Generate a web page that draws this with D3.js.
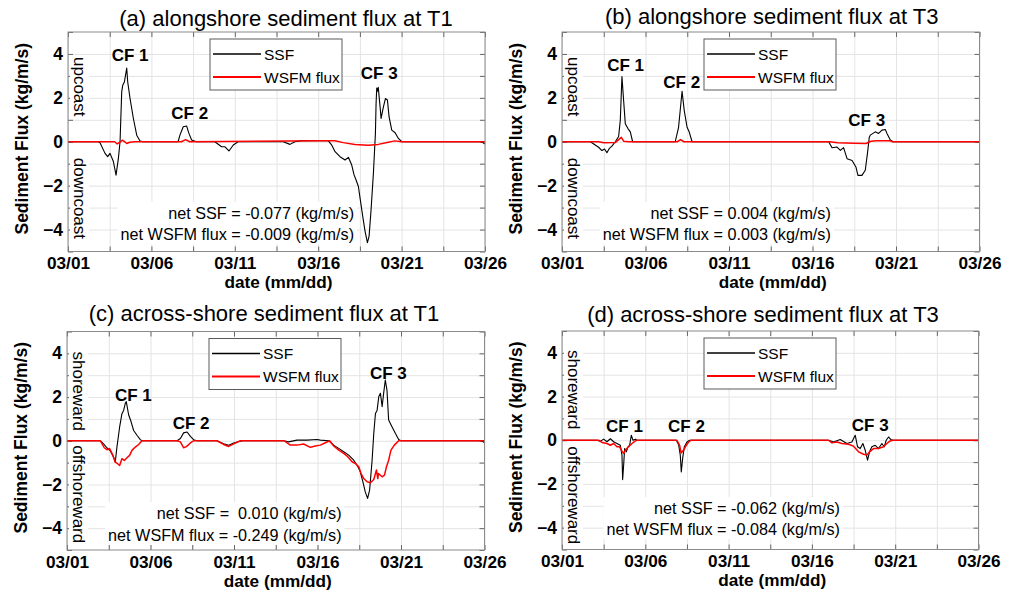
<!DOCTYPE html>
<html>
<head>
<meta charset="utf-8">
<script src="https://cdn.jsdelivr.net/npm/d3@7"></script>
<style>
  html, body { margin: 0; padding: 0; background: #fff; }
  svg { display: block; font-family: "Liberation Sans", Arial, Helvetica, sans-serif; }
  .pre { white-space: pre; }
</style>
</head>
<body>
<script>
// ---------------- DATA (day offset from 03/01, flux in kg/m/s) ----------------
const xTickLabels = ["03/01", "03/06", "03/11", "03/16", "03/21", "03/26"];
const yTickValues = [-4, -2, 0, 2, 4];
const seriesNames = ["SSF", "WSFM flux"];

const titles = [
  "(a) alongshore sediment flux at T1",
  "(b) alongshore sediment flux at T3",
  "(c) across-shore sediment flux at T1",
  "(d) across-shore sediment flux at T3"
];
const netSSF = [
  "net SSF = -0.077 (kg/m/s)",
  "net SSF = 0.004 (kg/m/s)",
  "net SSF =  0.010 (kg/m/s)",
  "net SSF = -0.062 (kg/m/s)"
];
const netWSFM = [
  "net WSFM flux = -0.009 (kg/m/s)",
  "net WSFM flux = 0.003 (kg/m/s)",
  "net WSFM flux = -0.249 (kg/m/s)",
  "net WSFM flux = -0.084 (kg/m/s)"
];
const sideLabels = [
  ["upcoast", "downcoast"],
  ["upcoast", "downcoast"],
  ["shoreward", "offshoreward"],
  ["shoreward", "offshoreward"]
];
const cfLabels = ["CF 1", "CF 2", "CF 3"];

const aSSF = [[0,0],[1.8,0],[1.92,-0.05],[2.22,-0.53],[2.38,-0.68],[2.52,-0.53],[2.72,-0.9],[2.88,-1.52],[3.02,-0.76],[3.12,0],[3.22,2.27],[3.28,2.57],[3.38,2.72],[3.52,3.36],[3.58,2.72],[3.72,1.97],[3.92,1.06],[4.12,0.3],[4.32,0.03],[4.5,0],[6.6,0],[6.71,0.3],[6.91,0.68],[7.11,0.72],[7.25,0.38],[7.41,0.08],[7.7,0],[8.8,0],[9.21,-0.23],[9.41,-0.23],[9.65,-0.42],[9.91,-0.15],[10.2,0],[12.9,0],[13.31,-0.12],[13.6,0],[14.0,0.05],[15.6,0.05],[15.81,-0.15],[16.01,-0.45],[16.31,-0.68],[16.61,-0.83],[16.81,-0.71],[17.01,-1.06],[17.15,-1.51],[17.27,-1.74],[17.41,-2.04],[17.51,-2.57],[17.67,-3.4],[17.81,-4.08],[17.95,-4.6],[18.05,-4.31],[18.17,-3.1],[18.31,-1.43],[18.43,0.38],[18.47,1.74],[18.51,2.45],[18.55,2.3],[18.6,2.48],[18.71,1.59],[18.77,1.06],[18.91,1.59],[19.03,1.97],[19.15,1.9],[19.25,1.13],[19.41,0.53],[19.61,0.41],[19.81,0.15],[20.01,0],[24.8,0],[25,-0.1]];
const aWSFM = [[0,0],[2.8,0],[2.95,-0.1],[3.1,-0.03],[3.25,0.07],[3.4,0],[3.52,-0.08],[3.7,-0.02],[4.0,0],[6.8,0],[7.05,0.1],[7.3,0],[15.2,0.05],[16.0,0.05],[16.5,-0.04],[17.2,-0.13],[18.0,-0.16],[18.6,-0.12],[19.2,-0.02],[19.6,0.04],[20.0,0],[25,0]];

const bSSF = [[0,0],[1.7,0],[1.99,-0.15],[2.19,-0.25],[2.39,-0.4],[2.55,-0.33],[2.69,-0.5],[2.84,-0.3],[2.99,-0.2],[3.19,0],[3.39,0.24],[3.49,0.97],[3.59,2.97],[3.69,1.88],[3.79,0.82],[3.95,0.6],[4.09,0.45],[4.23,0],[6.78,0],[6.98,0.66],[7.19,2.3],[7.32,1.42],[7.49,0.66],[7.62,0.44],[7.79,0],[15.97,0],[16.17,-0.27],[16.47,-0.24],[16.67,-0.39],[16.86,-0.27],[17.07,-0.77],[17.37,-0.85],[17.6,-1.15],[17.72,-1.53],[17.96,-1.53],[18.16,-1.3],[18.3,-0.47],[18.4,0.21],[18.46,0.3],[18.76,0.45],[18.96,0.38],[19.16,0.53],[19.36,0.56],[19.46,0.38],[19.66,0.08],[19.82,0],[25,0]];
const bWSFM = [[0,0],[2.2,0],[2.5,-0.05],[3.2,-0.03],[3.55,0.2],[3.7,0.02],[4.0,0],[6.9,0],[7.1,0.1],[7.3,0],[16.0,0],[16.5,-0.05],[17.5,-0.07],[18.2,-0.08],[18.5,0.02],[18.8,0.05],[19.6,0.05],[19.8,0],[25,0]];

const cSSF = [[0,0],[1.99,0],[2.19,-0.14],[2.39,-0.32],[2.59,-0.46],[2.79,-0.75],[2.89,-0.98],[2.99,-0.29],[3.15,0.62],[3.29,1.24],[3.39,1.39],[3.49,1.71],[3.55,1.79],[3.69,1.19],[3.83,0.89],[3.99,0.47],[4.19,0.25],[4.39,0.05],[4.49,0],[6.59,0],[6.79,0.1],[6.98,0.36],[7.19,0.4],[7.39,0.2],[7.58,0.05],[7.78,0],[8.98,0],[9.38,-0.14],[9.68,-0.21],[9.98,-0.1],[10.38,-0.02],[10.5,0],[12.97,0],[13.27,-0.05],[13.77,0.03],[14.37,0.03],[14.97,0.06],[15.17,0.03],[15.67,0],[15.97,-0.2],[16.27,-0.35],[16.57,-0.5],[16.87,-0.66],[17.17,-0.89],[17.4,-1.16],[17.56,-1.42],[17.72,-1.88],[17.86,-2.34],[18.0,-2.64],[18.12,-2.26],[18.27,-0.89],[18.37,0.34],[18.47,1.25],[18.57,1.4],[18.67,2.02],[18.77,2.17],[18.87,1.56],[18.96,2.17],[19.06,2.78],[19.16,2.32],[19.26,0.95],[19.46,0.64],[19.66,0.34],[19.86,0.06],[20.0,0],[24.8,0],[25,-0.08]];
const cWSFM = [[0,0],[1.99,0],[2.23,-0.32],[2.39,-0.41],[2.55,-0.36],[2.75,-0.67],[2.89,-0.98],[3.03,-1.05],[3.15,-1.13],[3.29,-0.82],[3.43,-0.9],[3.59,-0.78],[3.75,-0.67],[3.89,-0.44],[4.09,-0.29],[4.29,-0.17],[4.49,0],[6.59,0],[6.79,-0.05],[6.98,-0.32],[7.15,-0.27],[7.39,-0.1],[7.58,0],[8.98,0],[9.38,-0.17],[9.68,-0.26],[9.98,-0.14],[10.38,0],[13.0,0],[13.37,-0.2],[13.77,-0.2],[14.17,-0.15],[14.57,-0.3],[14.87,-0.24],[15.17,-0.2],[15.47,-0.09],[15.73,0],[15.97,-0.24],[16.27,-0.43],[16.57,-0.58],[16.81,-0.73],[17.07,-0.96],[17.27,-1.04],[17.47,-1.19],[17.61,-1.5],[17.77,-1.73],[17.97,-1.88],[18.17,-1.92],[18.37,-1.77],[18.53,-1.34],[18.61,-1.73],[18.65,-1.5],[18.87,-1.65],[19.01,-1.57],[19.13,-1.19],[19.26,-0.89],[19.4,-0.43],[19.6,-0.2],[19.86,0],[25,0]];

const dSSF = [[0,0],[2.1,0],[2.3,-0.05],[2.5,0.05],[2.7,-0.07],[2.9,0.07],[3.1,-0.07],[3.3,-0.15],[3.5,-0.23],[3.6,-0.68],[3.64,-1.8],[3.7,-1.14],[3.76,-0.38],[3.86,-0.53],[3.96,-0.3],[4.06,-0.23],[4.16,0.23],[4.26,0],[4.4,0.05],[4.5,0],[6.86,0],[7.0,-0.2],[7.1,-0.68],[7.16,-1.45],[7.24,-0.84],[7.34,-0.3],[7.5,-0.08],[7.66,0],[16.0,0],[16.3,-0.08],[16.7,0.03],[17.1,-0.15],[17.4,-0.08],[17.6,0.23],[17.74,-0.3],[17.9,-0.38],[18.06,-0.15],[18.2,-0.46],[18.34,-0.91],[18.46,-0.53],[18.6,-0.3],[18.8,-0.23],[19.0,-0.38],[19.2,-0.15],[19.34,-0.3],[19.46,0],[19.6,0.15],[19.74,0.03],[19.86,0],[25,0]];
const dWSFM = [[0,0],[2.2,0],[2.4,-0.1],[2.7,-0.15],[2.9,-0.23],[3.1,-0.15],[3.3,-0.3],[3.46,-0.3],[3.6,-0.5],[3.7,-0.6],[3.86,-0.4],[4.0,-0.3],[4.2,-0.15],[4.4,-0.03],[4.5,0],[6.9,0],[7.06,-0.23],[7.15,-0.58],[7.3,-0.45],[7.46,-0.23],[7.6,-0.08],[7.74,0],[16.0,0],[16.2,-0.12],[16.5,-0.08],[16.8,-0.15],[17.2,-0.18],[17.5,-0.27],[17.8,-0.53],[18.1,-0.64],[18.3,-0.68],[18.46,-0.53],[18.7,-0.38],[19.0,-0.38],[19.3,-0.3],[19.5,-0.15],[19.7,-0.03],[19.86,0],[25,0]];

// annotation anchor positions (day, value) for CF labels
const cfPos = [
  [[3.72, 3.93], [7.30, 1.30], [18.66, 3.13]],
  [[3.81, 3.51], [7.17, 2.72], [18.25, 0.98]],
  [[3.97, 2.10], [7.43, 0.83], [19.24, 3.12]],
  [[3.75, 0.65], [7.47, 0.65], [18.50, 0.68]]
];
// right edge (day) and line centres (values) of the net-flux text
const netPos = [[17.15, -3.25, -4.23], [16.1, -3.25, -4.23], [16.44, -3.32, -4.32], [16.68, -3.12, -4.08]];

// ---------------- LAYOUT ----------------
const layout = [
  {x: 68,  y: 32,    w: 417,   h: 219.5, tx: 286,   ty: 26,   up: 25, dn: 16},
  {x: 562, y: 32,    w: 417.5, h: 219.5, tx: 771.7, ty: 24,   up: 25, dn: 16},
  {x: 67,  y: 331.5, w: 417.5, h: 218.5, tx: 264,   ty: 320.5, up: 20, dn: 4.5},
  {x: 562, y: 331,   w: 416.5, h: 218.5, tx: 763,   ty: 321.5, up: 19, dn: 6}
];
const ssfSeries = [aSSF, bSSF, cSSF, dSSF];
const wsfmSeries = [aWSFM, bWSFM, cWSFM, dWSFM];

const base = Date.UTC(2000, 2, 1);
const toDate = day => new Date(base + day * 864e5);
const majorDays = d3.range(0, 25.01, 5);
const minorDays = d3.range(0, 25.01, 2.5);

const svg = d3.select("body").append("svg").attr("width", 1015).attr("height", 594);

const BOX = "#8a8a8a", GRID = "#e4e4e4", TICK = "#666";

layout.forEach((L, i) => {
  const g = svg.append("g").attr("transform", `translate(${L.x},${L.y})`);
  const x = d3.scaleUtc().domain([toDate(0), toDate(25)]).range([0, L.w]);
  const y = d3.scaleLinear().domain([-5, 5]).range([L.h, 0]);

  // grid
  g.append("g").attr("transform", `translate(0,${L.h})`)
    .call(d3.axisBottom(x).tickValues(minorDays.map(toDate)).tickSize(-L.h).tickFormat(""))
    .call(s => { s.select(".domain").remove(); s.selectAll("line").attr("stroke", GRID); });
  g.append("g")
    .call(d3.axisLeft(y).tickValues(d3.range(-4, 5, 1)).tickSize(-L.w).tickFormat(""))
    .call(s => { s.select(".domain").remove(); s.selectAll("line").attr("stroke", GRID); });

  // inner ticks on all sides
  const tk = 5;
  g.append("g").attr("transform", `translate(0,${L.h})`)
    .call(d3.axisBottom(x).tickValues(minorDays.map(toDate)).tickSize(-tk).tickFormat(""))
    .call(s => { s.select(".domain").remove(); s.selectAll("line").attr("stroke", TICK); });
  g.append("g")
    .call(d3.axisTop(x).tickValues(minorDays.map(toDate)).tickSize(-tk).tickFormat(""))
    .call(s => { s.select(".domain").remove(); s.selectAll("line").attr("stroke", TICK); });
  g.append("g")
    .call(d3.axisLeft(y).tickValues(d3.range(-5, 6, 1)).tickSize(-tk).tickFormat(""))
    .call(s => { s.select(".domain").remove(); s.selectAll("line").attr("stroke", TICK); });
  g.append("g").attr("transform", `translate(${L.w},0)`)
    .call(d3.axisRight(y).tickValues(d3.range(-5, 6, 1)).tickSize(-tk).tickFormat(""))
    .call(s => { s.select(".domain").remove(); s.selectAll("line").attr("stroke", TICK); });

  // tick labels
  g.append("g").attr("transform", `translate(0,${L.h})`)
    .call(d3.axisBottom(x).tickValues(majorDays.map(toDate)).tickSize(0).tickPadding(5.5)
      .tickFormat((d, k) => xTickLabels[k]))
    .call(s => {
      s.select(".domain").remove();
      s.selectAll("text").attr("font-size", 17.2).attr("font-weight", "bold")
        .attr("fill", "#000").attr("font-family", "Liberation Sans, Arial, sans-serif");
    });
  g.append("g")
    .call(d3.axisLeft(y).tickValues(yTickValues).tickSize(0).tickPadding(5))
    .call(s => {
      s.select(".domain").remove();
      s.selectAll("text").attr("font-size", 17.5).attr("font-weight", "bold")
        .attr("fill", "#000").attr("font-family", "Liberation Sans, Arial, sans-serif");
    });

  // data lines (red drawn on top, as in the reference)
  const line = d3.line().x(p => x(toDate(p[0]))).y(p => y(p[1]));
  g.append("path").datum(ssfSeries[i]).attr("d", line)
    .attr("fill", "none").attr("stroke", "#000").attr("stroke-width", 1.1).attr("stroke-linejoin", "round");
  g.append("path").datum(wsfmSeries[i]).attr("d", line)
    .attr("fill", "none").attr("stroke", "#ff0000").attr("stroke-width", 1.5).attr("stroke-linejoin", "round");

  // box
  g.append("rect").attr("width", L.w).attr("height", L.h)
    .attr("fill", "none").attr("stroke", BOX).attr("stroke-width", 1);

  // side labels (rotated, reading top to bottom) with white background
  const zeroY = y(0);
  const sideG = (ypos, txt) => {
    const sg = g.append("g").attr("transform", `translate(12,${ypos}) rotate(90)`);
    const t = sg.append("text").attr("x", 0).attr("y", 0).attr("dy", "0.35em")
      .attr("font-size", 17).attr("fill", "#000").text(txt);
    const bb = t.node().getBBox();
    sg.insert("rect", "text").attr("x", bb.x - 1).attr("y", bb.y)
      .attr("width", bb.width + 2).attr("height", bb.height).attr("fill", "#fff");
  };
  sideG(L.up, sideLabels[i][0]);
  sideG(zeroY + L.dn, sideLabels[i][1]);

  // CF labels
  cfPos[i].forEach((p, k) => {
    g.append("text").attr("x", x(toDate(p[0]))).attr("y", y(p[1])).attr("dy", "0.35em")
      .attr("text-anchor", "middle").attr("font-size", 17).attr("font-weight", "bold")
      .attr("fill", "#000").text(cfLabels[k]);
  });

  // net flux text with white background
  const np = netPos[i];
  const ng = g.append("g");
  const t1 = ng.append("text").attr("class", "pre").attr("x", x(toDate(np[0]))).attr("y", y(np[1]))
    .attr("dy", "0.35em").attr("text-anchor", "end").attr("font-size", 16.2).attr("fill", "#000").text(netSSF[i]);
  const t2 = ng.append("text").attr("class", "pre").attr("x", x(toDate(np[0]))).attr("y", y(np[2]))
    .attr("dy", "0.35em").attr("text-anchor", "end").attr("font-size", 16.2).attr("fill", "#000").text(netWSFM[i]);
  const b1 = t1.node().getBBox(), b2 = t2.node().getBBox();
  const bx0 = Math.min(b1.x, b2.x) - 3, bx1 = Math.max(b1.x + b1.width, b2.x + b2.width) + 3;
  const by0 = b1.y - 2, by1 = b2.y + b2.height + 1;
  ng.insert("rect", "text").attr("x", bx0).attr("y", by0).attr("width", bx1 - bx0).attr("height", by1 - by0).attr("fill", "#fff");

  // legend
  const lg = g.append("g").attr("transform", "translate(142,7)");
  lg.append("rect").attr("width", 132).attr("height", 51).attr("fill", "#fff")
    .attr("stroke", "#5a5a5a").attr("stroke-width", 1);
  const legColors = ["#000", "#ff0000"];
  seriesNames.forEach((nm, k) => {
    const ly = 15 + k * 23;
    lg.append("line").attr("x1", 3).attr("x2", 51).attr("y1", ly).attr("y2", ly)
      .attr("stroke", legColors[k]).attr("stroke-width", k ? 2 : 1.6);
    lg.append("text").attr("x", 54).attr("y", ly).attr("dy", "0.36em")
      .attr("font-size", 15.5).attr("fill", "#000").text(nm);
  });

  // axis labels & title
  svg.append("text").attr("x", L.x + L.w / 2 + 2).attr("y", L.y + L.h + 36.5)
    .attr("text-anchor", "middle").attr("font-size", 17.2).attr("font-weight", "bold").text("date (mm/dd)");
  svg.append("text").attr("transform", `translate(${L.x - 40},${L.y + L.h / 2 - 3}) rotate(-90)`)
    .attr("text-anchor", "middle").attr("font-size", 17.5).attr("font-weight", "bold").text("Sediment Flux (kg/m/s)");
  svg.append("text").attr("x", L.tx).attr("y", L.ty)
    .attr("text-anchor", "middle").attr("font-size", 22).attr("fill", "#000").text(titles[i]);
});
</script>
</body>
</html>
